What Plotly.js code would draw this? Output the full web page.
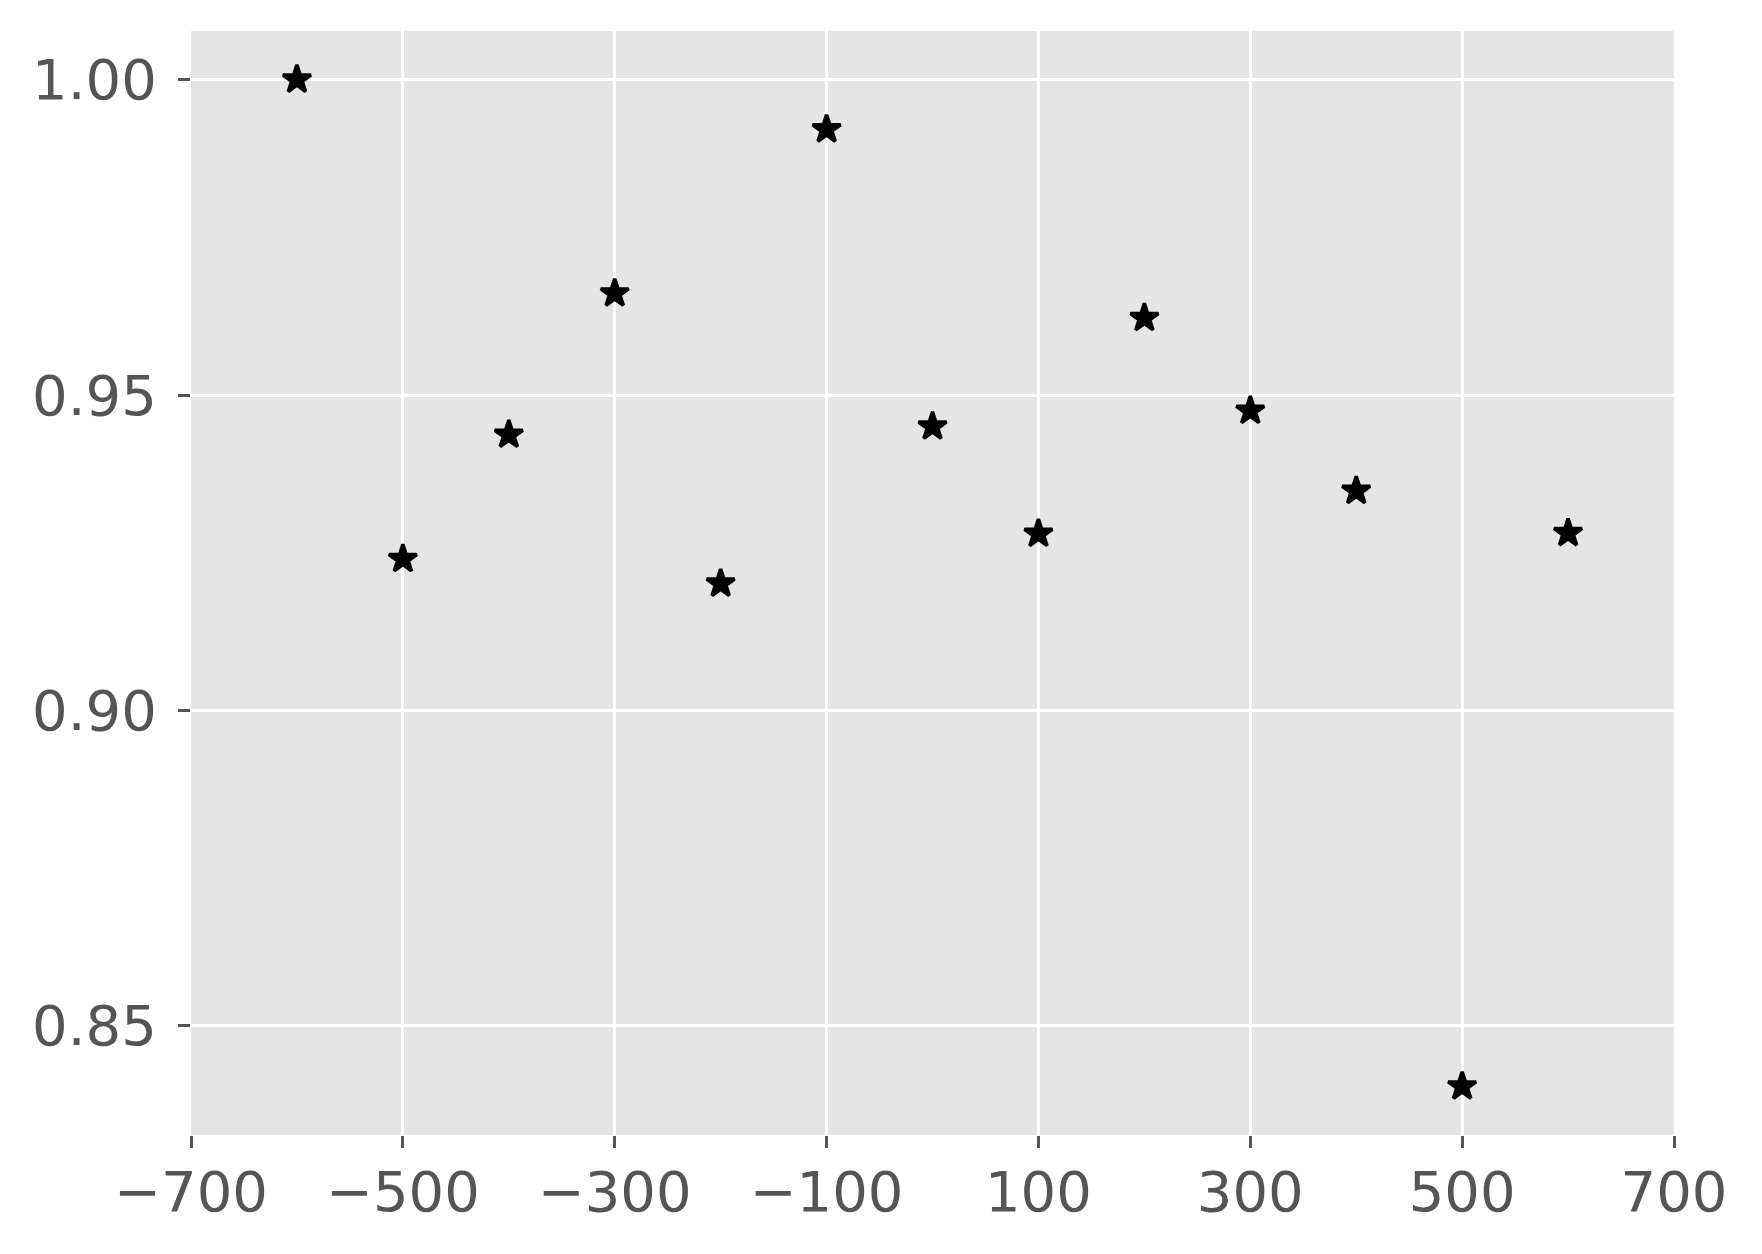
<!DOCTYPE html>
<html>
<head>
<meta charset="utf-8">
<script src="https://cdn.plot.ly/plotly-3.0.1.min.js"></script>
<style>html,body{margin:0;padding:0;background:#fff;}#chart{width:1762px;height:1254px;}</style>
</head>
<body>
<div id="chart"></div>
<script>
const xValues = [-600, -500, -400, -300, -200, -100, 0, 100, 200, 300, 400, 500, 600];
const yValues = [1.000, 0.9240, 0.9437, 0.9661, 0.9201, 0.9921, 0.9450, 0.9280, 0.9622, 0.9475, 0.9348, 0.8404, 0.9281];
const xTicks = [-700, -500, -300, -100, 100, 300, 500, 700];
const xTickText = ['\u2212700', '\u2212500', '\u2212300', '\u2212100', '100', '300', '500', '700'];
const yTicks = [0.85, 0.90, 0.95, 1.00];
const yTickText = ['0.85', '0.90', '0.95', '1.00'];

const trace = {
  type: 'scatter',
  mode: 'markers',
  x: xValues,
  y: yValues,
  marker: {symbol: 'star', size: 21, color: '#000000', line: {color: '#000000', width: 3.5}},
  hoverinfo: 'x+y'
};

const fontSpec = {family: 'DejaVu Sans, sans-serif', size: 56, color: '#555555'};

const layout = {
  width: 1762,
  height: 1254,
  margin: {l: 191, r: 88, t: 31, b: 119, pad: 0},
  paper_bgcolor: '#ffffff',
  plot_bgcolor: '#E5E5E5',
  showlegend: false,
  xaxis: {
    range: [-700, 700],
    tickmode: 'array',
    tickvals: xTicks,
    ticktext: xTickText,
    ticks: 'outside',
    ticklen: 12,
    tickwidth: 3,
    tickcolor: '#555555',
    tickfont: fontSpec,
    ticklabelstandoff: -4,
    showgrid: true,
    gridcolor: '#ffffff',
    gridwidth: 3,
    zeroline: false,
    showline: false
  },
  yaxis: {
    range: [0.8327, 1.0077],
    tickmode: 'array',
    tickvals: yTicks,
    ticktext: yTickText,
    ticks: 'outside',
    ticklen: 12,
    tickwidth: 3,
    tickcolor: '#555555',
    tickfont: fontSpec,
    ticklabelstandoff: 10,
    showgrid: true,
    gridcolor: '#ffffff',
    gridwidth: 3,
    zeroline: false,
    showline: false
  }
};

Plotly.newPlot('chart', [trace], layout, {displayModeBar: false, staticPlot: true});
</script>
</body>
</html>
